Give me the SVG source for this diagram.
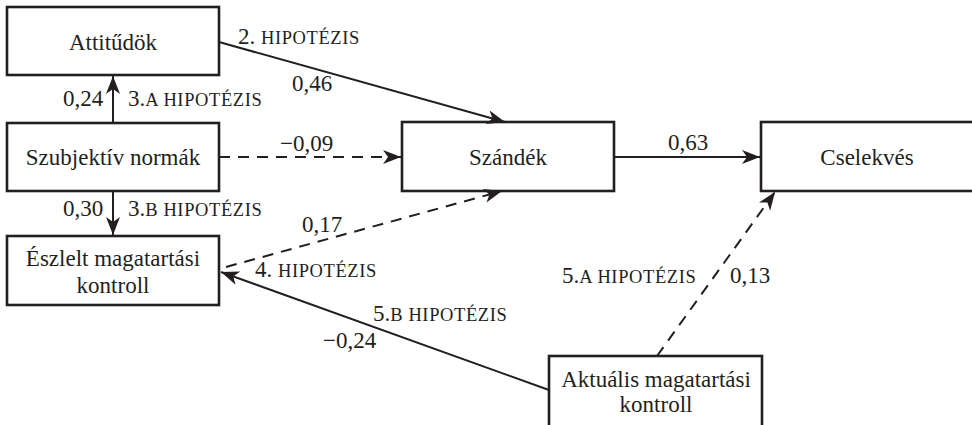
<svg xmlns="http://www.w3.org/2000/svg" width="972" height="425" viewBox="0 0 972 425">
<style>
.box{fill:#fff;stroke:#231f20;stroke-width:2.6}
.t{font-family:"Liberation Serif","DejaVu Serif",serif;font-size:23px;fill:#231f20}
.c{text-anchor:middle}
.sc{font-size:18.5px;letter-spacing:0.6px}
.ln{fill:none;stroke:#231f20;stroke-width:2}
.d{stroke-dasharray:11 8}
</style>
<defs>
<marker id="ah" markerUnits="userSpaceOnUse" markerWidth="20" markerHeight="16" refX="18" refY="7" orient="auto">
<path d="M0,0 L18,7 L0,14 L5,7 Z" fill="#231f20"/>
</marker>
</defs>
<rect width="972" height="425" fill="#fff"/>
<g id="n-attitudok"><rect class="box" x="7" y="7" width="212" height="68"/><text class="t c" x="113" y="50">Attitűdök</text></g>
<g id="n-szubjektiv"><rect class="box" x="7" y="123" width="212" height="68"/><text class="t c" x="113" y="165">Szubjektív normák</text></g>
<g id="n-eszlelt"><rect class="box" x="7" y="236" width="212" height="69"/><text class="t c" x="113" y="266">Észlelt magatartási</text><text class="t c" x="113" y="293">kontroll</text></g>
<g id="n-szandek"><rect class="box" x="402" y="122" width="212" height="69"/><text class="t c" x="508" y="165">Szándék</text></g>
<g id="n-cselekves"><rect class="box" x="761" y="122" width="215" height="69"/><text class="t c" x="867" y="165">Cselekvés</text></g>
<g id="n-aktualis"><rect class="box" x="549" y="356" width="213" height="75"/><text class="t c" x="656" y="387">Aktuális magatartási</text><text class="t c" x="656" y="412">kontroll</text></g>
<g id="connectors">
<path class="ln" d="M219,42 L505,122" marker-end="url(#ah)"/>
<path class="ln" d="M113,123 L113,76" marker-end="url(#ah)"/>
<path class="ln d" d="M219,157 L401,157" marker-end="url(#ah)"/>
<path class="ln" d="M113,191 L113,235" marker-end="url(#ah)"/>
<path class="ln d" d="M226,267 L502,191" marker-end="url(#ah)"/>
<path class="ln" d="M549,390 L221,272" marker-end="url(#ah)"/>
<path class="ln d" d="M657,356 L775,192" marker-end="url(#ah)"/>
<path class="ln" d="M614,157 L760,157" marker-end="url(#ah)"/>
</g>
<g id="labels">
<text class="t" x="238" y="44">2. <tspan class="sc">HIPOTÉZIS</tspan></text>
<text class="t" x="292" y="91">0,46</text>
<text class="t" x="63" y="106">0,24</text>
<text class="t" x="128" y="106">3.<tspan class="sc">A HIPOTÉZIS</tspan></text>
<text class="t" x="280" y="151">−0,09</text>
<text class="t" x="63" y="216">0,30</text>
<text class="t" x="128" y="216">3.<tspan class="sc">B HIPOTÉZIS</tspan></text>
<text class="t" x="302" y="232">0,17</text>
<text class="t" x="255" y="277">4. <tspan class="sc">HIPOTÉZIS</tspan></text>
<text class="t" x="668" y="150">0,63</text>
<text class="t" x="562" y="283">5.<tspan class="sc">A HIPOTÉZIS</tspan></text>
<text class="t" x="730" y="283">0,13</text>
<text class="t" x="373" y="321">5.<tspan class="sc">B HIPOTÉZIS</tspan></text>
<text class="t" x="323" y="348">−0,24</text>
</g>
</svg>
